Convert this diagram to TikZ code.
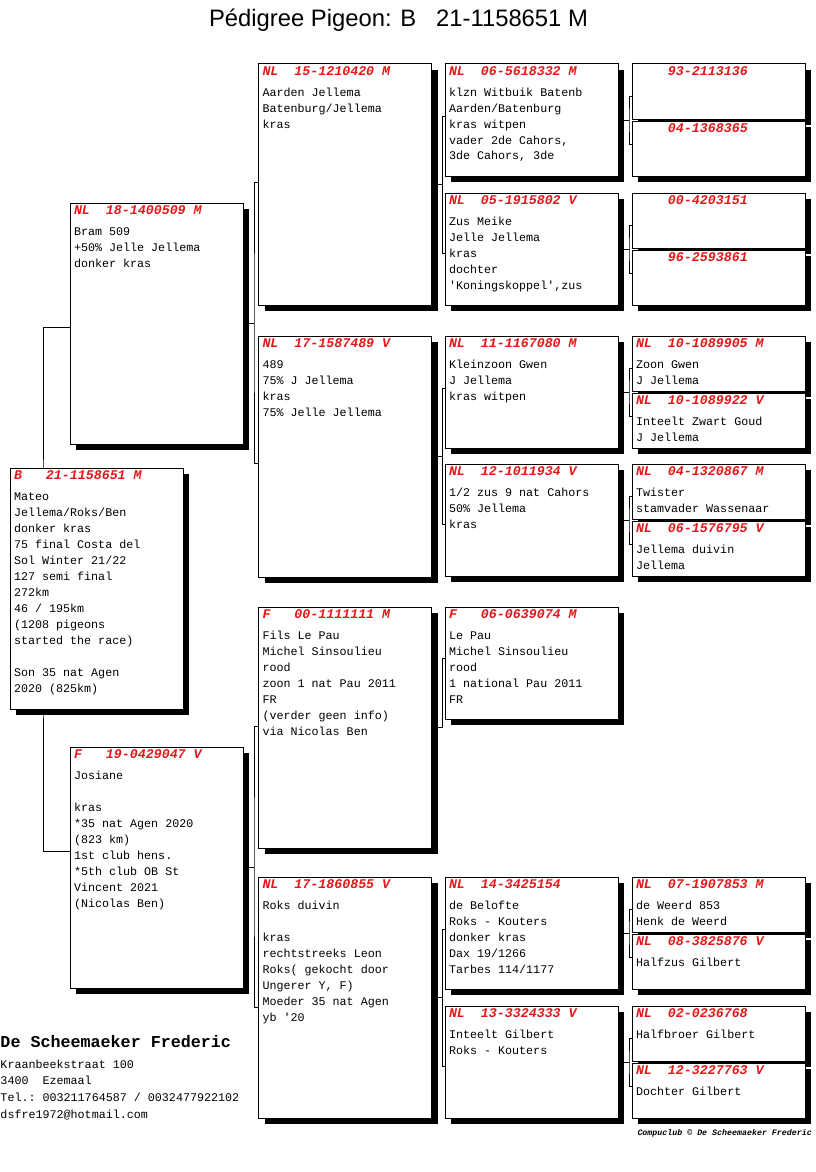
\documentclass[tikz,border=0pt]{standalone}
\usepackage{xcolor}
\usepackage{fontspec}
\setsansfont{Liberation Sans}
\setmonofont{Liberation Mono}
\usepackage{tikz}
\usetikzlibrary{shadows,backgrounds}
\definecolor{ringred}{RGB}{228,24,24}
\newcommand\ringno[1]{\spaceskip=0pt\xspaceskip=0pt{\color{ringred}\bfseries\itshape\fontsize{13.3}{16}\selectfont#1\par}\vspace{5pt}}

\begin{document}
\begin{tikzpicture}[x=1pt, y=-1pt, every path/.style={line width=1pt},%
        pbox/.style={draw, fill=white, anchor=north west, outer sep=0pt, inner xsep=4pt, inner ysep=0pt, text width=165pt, text height=11pt,%
            font=\ttfamily\fontsize{11.7}{16}\selectfont, drop shadow={shadow xshift=6pt, shadow yshift=-6pt, fill=black, opacity=1}},%
        big/.style={pbox, text depth=230pt}, mid/.style={pbox, text depth=101pt}, half/.style={pbox, text depth=44pt}]
        \useasboundingbox (0,0) rectangle (816,1172);
        \node[font=\sffamily\fontsize{23.8}{28}\selectfont, anchor=base, inner sep=0pt] (title) at (398.5,27) {Pédigree Pigeon: B~~~21-1158651 M};

        \node[big] (subj) at (10,468) {\ringno{B~~~21-1158651 M}Mateo\\Jellema/Roks/Ben\\donker kras\\75 final Costa del\\Sol Winter 21/22\\127 semi final\\272km\\46 / 195km\\(1208 pigeons\\started the race)\\[16pt]Son 35 nat Agen\\2020 (825km)};
        \node[big] (sire) at (70,203) {\ringno{NL~~18-1400509 M}Bram 509\\+50\% Jelle Jellema\\donker kras};
        \node[big] (dam) at (70,747) {\ringno{F~~~19-0429047 V}Josiane\\[16pt]kras\\{}*35 nat Agen 2020\\(823 km)\\1st club hens.\\{}*5th club OB St\\Vincent 2021\\(Nicolas Ben)};

        \node[big] (ss) at (258.5,64) {\ringno{NL~~15-1210420 M}Aarden Jellema\\Batenburg/Jellema\\kras};
        \node[big] (sd) at (258.5,336) {\ringno{NL~~17-1587489 V}489\\75\% J Jellema\\kras\\75\% Jelle Jellema};
        \node[big] (ds) at (258.5,607) {\ringno{F~~~00-1111111 M}Fils Le Pau\\Michel Sinsoulieu\\rood\\zoon 1 nat Pau 2011\\FR\\(verder geen info)\\via Nicolas Ben};
        \node[big] (dd) at (258.5,877) {\ringno{NL~~17-1860855 V}Roks duivin\\[16pt]kras\\rechtstreeks Leon\\Roks( gekocht door\\Ungerer Y, F)\\Moeder 35 nat Agen\\yb '20};

        \node[mid] (sss) at (445,64) {\ringno{NL~~06-5618332 M}klzn Witbuik Batenb\\Aarden/Batenburg\\kras witpen\\vader 2de Cahors,\\3de Cahors, 3de};
        \node[mid] (ssd) at (445,193) {\ringno{NL~~05-1915802 V}Zus Meike\\Jelle Jellema\\kras\\dochter\\'Koningskoppel',zus};
        \node[mid] (sds) at (445,336) {\ringno{NL~~11-1167080 M}Kleinzoon Gwen\\J Jellema\\kras witpen};
        \node[mid] (sdd) at (445,464) {\ringno{NL~~12-1011934 V}1/2 zus 9 nat Cahors\\50\% Jellema\\kras};
        \node[mid] (dss) at (445,607) {\ringno{F~~~06-0639074 M}Le Pau\\Michel Sinsoulieu\\rood\\1 national Pau 2011\\FR};
        \node[mid] (dds) at (445,877) {\ringno{NL~~14-3425154}de Belofte\\Roks - Kouters\\donker kras\\Dax 19/1266\\Tarbes 114/1177};
        \node[mid] (ddd) at (445,1006) {\ringno{NL~~13-3324333 V}Inteelt Gilbert\\Roks - Kouters};

        \node[half] (ssss) at (632,64) {\ringno{~~~~93-2113136}};
        \node[half] (sssd) at (632,121) {\ringno{~~~~04-1368365}};
        \node[half] (ssds) at (632,193) {\ringno{~~~~00-4203151}};
        \node[half] (ssdd) at (632,250) {\ringno{~~~~96-2593861}};
        \node[half] (sdss) at (632,336) {\ringno{NL~~10-1089905 M}Zoon Gwen\\J Jellema};
        \node[half] (sdsd) at (632,393) {\ringno{NL~~10-1089922 V}Inteelt Zwart Goud\\J Jellema};
        \node[half] (sdds) at (632,464) {\ringno{NL~~04-1320867 M}Twister\\stamvader Wassenaar};
        \node[half] (sddd) at (632,521) {\ringno{NL~~06-1576795 V}Jellema duivin\\Jellema};
        \node[half] (ddss) at (632,877) {\ringno{NL~~07-1907853 M}de Weerd 853\\Henk de Weerd};
        \node[half] (ddsd) at (632,934) {\ringno{NL~~08-3825876 V}Halfzus Gilbert};
        \node[half] (ddds) at (632,1006) {\ringno{NL~~02-0236768}Halfbroer Gilbert};
        \node[half] (dddd) at (632,1063) {\ringno{NL~~12-3227763 V}Dochter Gilbert};

        \node[font=\ttfamily\bfseries\fontsize{16.7}{20}\selectfont, anchor=base west, inner sep=0pt] (owner) at (0,1047) {De Scheemaeker Frederic};
        \node[font=\ttfamily\fontsize{11.7}{16.7}\selectfont, anchor=base west, inner sep=0pt, text width=300pt] (addr) at (0,1068) {\spaceskip=0pt\xspaceskip=0pt Kraanbeekstraat 100\\3400~~Ezemaal\\Tel.: 003211764587 / 0032477922102\\dsfre1972@hotmail.com};
        \node[font=\ttfamily\bfseries\itshape\fontsize{8.3}{10}\selectfont, anchor=base west, inner sep=0pt] (credit) at (637,1135) {Compuclub © De Scheemaeker Frederic};

        \begin{scope}[on background layer]
            \fill[white] (0,0) rectangle (816,1172);
            \draw ([yshift=-4pt]sire.west) -| ([xshift=33pt]subj.west) |- ([yshift=16pt]dam.west);
            \draw ([yshift=2.5pt]ss.west) -| ([xshift=11pt]sire.east) |- ([yshift=-7pt]sd.west) (sire.east) -- ([xshift=11pt]sire.east);
            \draw ([yshift=1.5pt]ds.west) -| ([xshift=11pt]dam.east) |- ([yshift=-9.5pt]dd.west) (dam.east) -- ([xshift=11pt]dam.east);
            \draw ([yshift=4pt]sss.west) -| ([xshift=11pt]ss.east) |- ([yshift=-4pt]ssd.west) (ss.east) -- ([xshift=11pt]ss.east);
            \draw ([yshift=4pt]sds.west) -| ([xshift=11pt]sd.east) |- ([yshift=-4pt]sdd.west) (sd.east) -- ([xshift=11pt]sd.east);
            \draw ([yshift=4.5pt]dss.west) -| ([xshift=11pt]ds.east) -- (ds.east);
            \draw ([yshift=4pt]dds.west) -| ([xshift=11pt]dd.east) |- ([yshift=-4pt]ddd.west) (dd.east) -- ([xshift=11pt]dd.east);
            \draw ([yshift=-4.5pt]ssss.west) -| ([xshift=11pt]sss.east) |- ([yshift=4.5pt]sssd.west) (sss.east) -- ([xshift=11pt]sss.east);
            \draw ([yshift=-4.5pt]ssds.west) -| ([xshift=11pt]ssd.east) |- ([yshift=4.5pt]ssdd.west) (ssd.east) -- ([xshift=11pt]ssd.east);
            \draw ([yshift=-4.5pt]sdss.west) -| ([xshift=11pt]sds.east) |- ([yshift=4.5pt]sdsd.west) (sds.east) -- ([xshift=11pt]sds.east);
            \draw ([yshift=-4.5pt]sdds.west) -| ([xshift=11pt]sdd.east) |- ([yshift=4.5pt]sddd.west) (sdd.east) -- ([xshift=11pt]sdd.east);
            \draw ([yshift=-4.5pt]ddss.west) -| ([xshift=11pt]dds.east) |- ([yshift=4.5pt]ddsd.west) (dds.east) -- ([xshift=11pt]dds.east);
            \draw ([yshift=-4.5pt]ddds.west) -| ([xshift=11pt]ddd.east) |- ([yshift=4.5pt]dddd.west) (ddd.east) -- ([xshift=11pt]ddd.east);
        \end{scope}
    \end{tikzpicture}
\end{document}
